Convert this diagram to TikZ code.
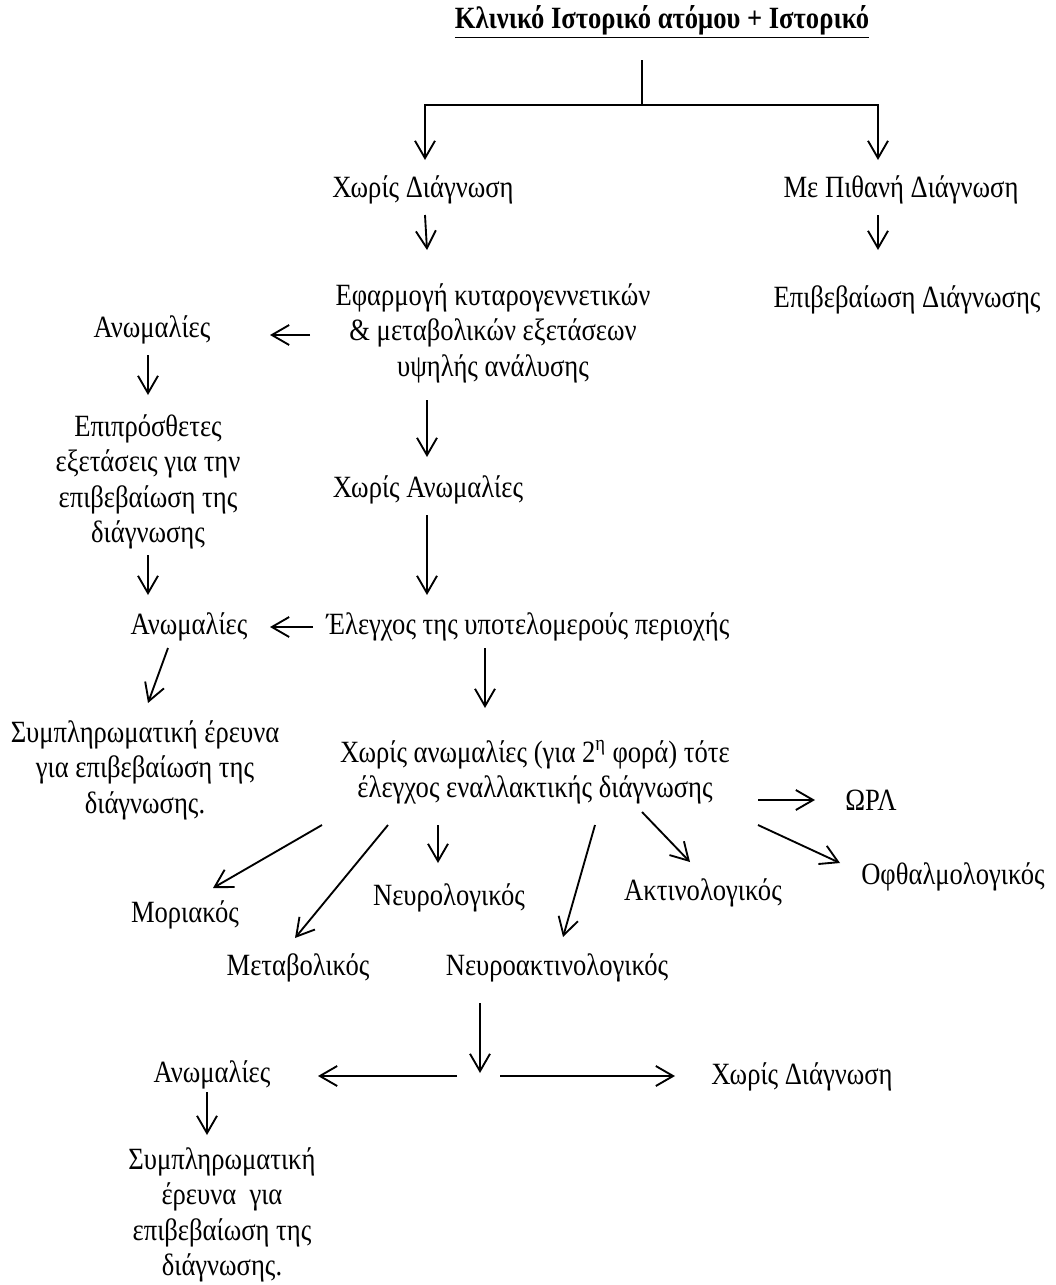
\documentclass[tikz,border=0pt]{standalone}
\usepackage{fontspec}
\setmainfont{Liberation Serif}[FakeStretch=0.86]
\usepackage{tikz}
\usetikzlibrary{arrows.meta}

\begin{document}
\begin{tikzpicture}[x=0.75pt, y=-0.75pt,
    every node/.style={inner sep=0pt, align=center,
      font=\fontsize{23.2}{26.6}\selectfont},
    line/.style={line width=1.4pt},
    arr/.style={line width=1.4pt, -{Straight Barb[length=13pt, width=15pt]}}]
  \useasboundingbox (0,0) rectangle (1056,1285);

  % titles and boxes of text
  \node (hist) at (662,22) {\underline{\textbf{Κλινικό Ιστορικό ατόμου + Ιστορικό}}};
  \node (nodiag) at (423,190) {Χωρίς Διάγνωση};
  \node (probdiag) at (901,190) {Με Πιθανή Διάγνωση};
  \node (confirm) at (907,300) {Επιβεβαίωση Διάγνωσης};
  \node (cyto) at (493,333) {Εφαρμογή κυταρογεννετικών\\ \& μεταβολικών εξετάσεων\\ υψηλής ανάλυσης};
  \node (anom1) at (152,330) {Ανωμαλίες};
  \node (extra) at (148,482) {Επιπρόσθετες\\ εξετάσεις για την\\ επιβεβαίωση της\\ διάγνωσης};
  \node (noanom) at (428,490) {Χωρίς Ανωμαλίες};
  \node (subtel) at (528,627) {Έλεγχος της υποτελομερούς περιοχής};
  \node (anom2) at (189,627) {Ανωμαλίες};
  \node (suppl1) at (145,770) {Συμπληρωματική έρευνα\\ για επιβεβαίωση της\\ διάγνωσης.};
  \node (alt) at (535,772) {Χωρίς ανωμαλίες (για 2\textsuperscript{η} φορά) τότε\\ έλεγχος εναλλακτικής διάγνωσης};
  \node (orl) at (871,800) {ΩΡΛ};
  \node (mol) at (185,915) {Μοριακός};
  \node (metab) at (298,968) {Μεταβολικός};
  \node (neuro) at (449,898) {Νευρολογικός};
  \node (neurorad) at (557,968) {Νευροακτινολογικός};
  \node (rad) at (703,893) {Ακτινολογικός};
  \node (ophth) at (953,877) {Οφθαλμολογικός};
  \node (anom3) at (212,1075) {Ανωμαλίες};
  \node (nodiag2) at (802,1077) {Χωρίς Διάγνωση};
  \node (suppl2) at (222,1215) {Συμπληρωματική\\ έρευνα\ \ για\\ επιβεβαίωση της\\ διάγνωσης.};

  \coordinate (split) at (642,105);
  \coordinate (fork) at (480,1076);

  % top branch
  \draw[line] ([shift={(-20,38)}]hist.center) -- (split);
  \draw[arr] (split) -| ([shift={(2,-30)}]nodiag.center);
  \draw[arr] (split) -| ([shift={(-23,-30)}]probdiag.center);
  \draw[arr] ([shift={(2,25)}]nodiag.center) -- ([shift={(-66,-83)}]cyto.center);
  \draw[arr] ([shift={(-23,25)}]probdiag.center) -- ([shift={(-29,-50)}]confirm.center);

  % left column
  \draw[arr] ([shift={(-183,2)}]cyto.center) -- ([shift={(118,5)}]anom1.center);
  \draw[arr] ([shift={(-4,25)}]anom1.center) -- ([shift={(0,-87)}]extra.center);
  \draw[arr] ([shift={(0,73)}]extra.center) -- ([shift={(-41,-32)}]anom2.center);
  \draw[arr] ([shift={(-215,0)}]subtel.center) -- ([shift={(81,0)}]anom2.center);
  \draw[arr] ([shift={(-21,21)}]anom2.center) -- ([shift={(3,-67)}]suppl1.center);

  % middle column
  \draw[arr] ([shift={(-66,67)}]cyto.center) -- ([shift={(-1,-33)}]noanom.center);
  \draw[arr] ([shift={(-1,25)}]noanom.center) -- ([shift={(-101,-32)}]subtel.center);
  \draw[arr] ([shift={(-43,21)}]subtel.center) -- ([shift={(-50,-64)}]alt.center);

  % alternative diagnosis
  \draw[arr] ([shift={(223,28)}]alt.center) -- ([shift={(-56,0)}]orl.center);
  \draw[arr] ([shift={(-213,53)}]alt.center) -- ([shift={(28,-27)}]mol.center);
  \draw[arr] ([shift={(-147,53)}]alt.center) -- ([shift={(-3,-30)}]metab.center);
  \draw[arr] ([shift={(-97,53)}]alt.center) -- ([shift={(-11,-35)}]neuro.center);
  \draw[arr] ([shift={(60,53)}]alt.center) -- ([shift={(6,-31)}]neurorad.center);
  \draw[arr] ([shift={(107,40)}]alt.center) -- ([shift={(-13,-31)}]rad.center);
  \draw[arr] ([shift={(223,53)}]alt.center) -- ([shift={(-113,-14)}]ophth.center);

  % bottom fork
  \draw[arr] ([shift={(-77,35)}]neurorad.center) -- ([shift={(0,-3)}]fork);
  \draw[arr] ([shift={(-23,0)}]fork) -- ([shift={(106,1)}]anom3.center);
  \draw[arr] ([shift={(20,0)}]fork) -- ([shift={(-127,-1)}]nodiag2.center);
  \draw[arr] ([shift={(-5,17)}]anom3.center) -- ([shift={(-15,-80)}]suppl2.center);
\end{tikzpicture}
\end{document}
